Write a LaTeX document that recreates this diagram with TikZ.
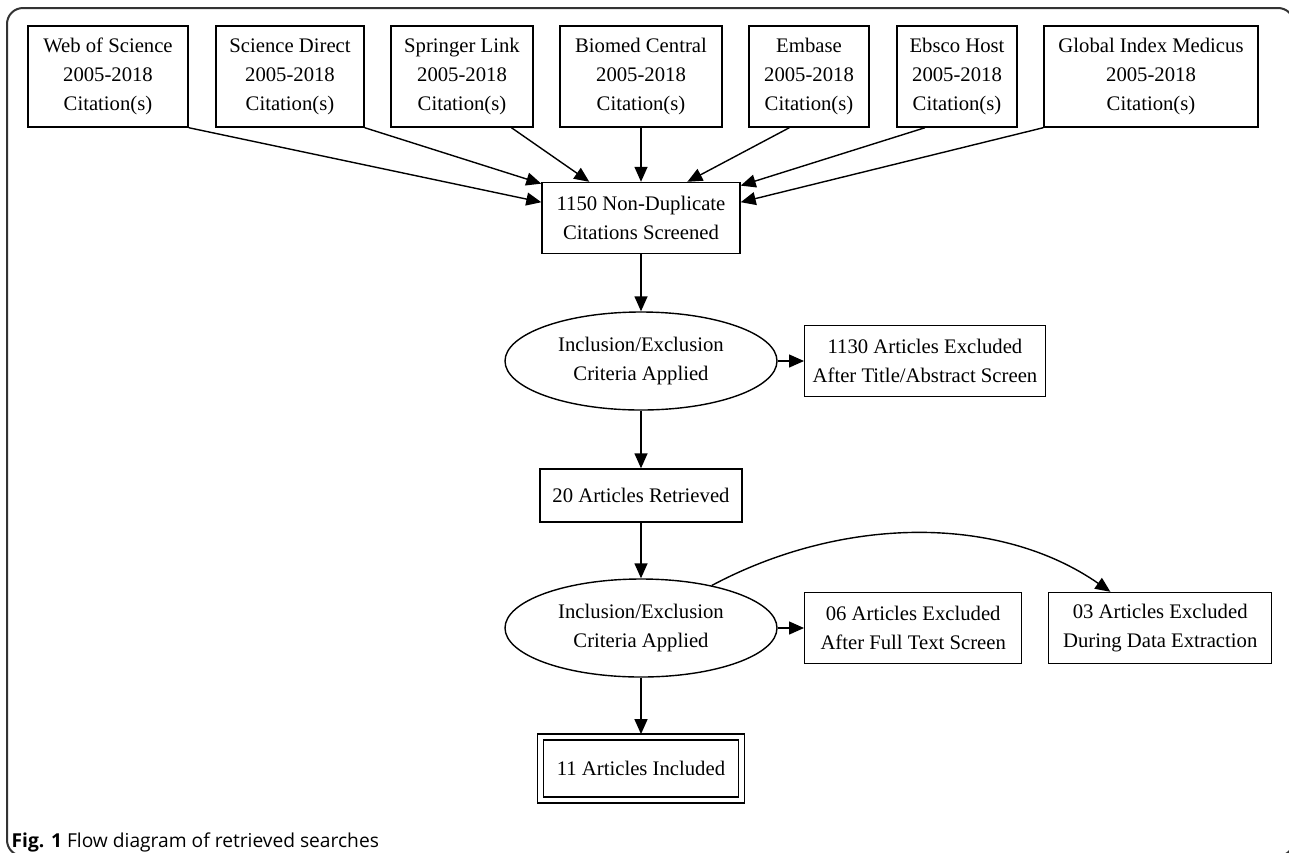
\documentclass[tikz,border=0pt]{standalone}
\usepackage{fontspec}
\setmainfont{Liberation Serif}
\newfontfamily\capfont{Open Sans}
\usetikzlibrary{positioning}
\usetikzlibrary{shapes.geometric}
\usetikzlibrary{arrows.meta}

\tikzset{
  src/.style={draw, align=center, minimum height=50.5pt, inner xsep=4pt},
  stagebox/.style={draw, align=center, minimum height=35.5pt, inner xsep=4pt},
  crit/.style={draw, ellipse, align=center, minimum width=136pt, minimum height=49pt, inner sep=0pt},
}

\begin{document}
\begin{tikzpicture}[x=0.5pt, y=-0.5pt, line width=0.7pt,
  >={Triangle[length=7.5pt,width=6.5pt]},
  every node/.style={font=\fontsize{10.35}{14.5}\selectfont}]
\useasboundingbox (0,0) rectangle (1289,852);
\begin{scope}
\clip (0,0) rectangle (1289,852);
\draw[line width=1pt, black!80, rounded corners=8pt] (7,8) rectangle (1294,856);
\end{scope}
% databases
\foreach \nm/\xx/\bw/\txt in {wos/108/80/Web of Science, sd/290/74/Science Direct, sl/462/71/Springer Link, bmc/641/81/Biomed Central, emb/809/60/Embase, ebs/957/60/Ebsco Host, gim/1151/107/Global Index Medicus} {
\node[src, minimum width=\bw pt] (\nm) at (\xx,76.5) {\txt\\2005-2018\\Citation(s)};
}
\node[stagebox, minimum width=99pt] (scr) at (641,218) {1150 Non-Duplicate\\Citations Screened};
\node[crit] (ell1) at (641,361) {Inclusion/Exclusion\\Criteria Applied};
\node[stagebox, anchor=west] (ex1) at (804,361) {1130 Articles Excluded\\After Title/Abstract Screen};
\node[draw, minimum width=101pt, minimum height=26.5pt] (ret) at (641,495.5) {20 Articles Retrieved};
\node[crit] (ell2) at (641,628) {Inclusion/Exclusion\\Criteria Applied};
\node[stagebox, minimum width=108.5pt, anchor=west] (ex2) at (804,628) {06 Articles Excluded\\After Full Text Screen};
\node[stagebox, minimum width=111.5pt, anchor=west] (ex3) at (1048,628) {03 Articles Excluded\\During Data Extraction};
\node[draw, double, double distance=2.2pt, outer sep=1.45pt, minimum width=100.5pt, minimum height=31.5pt] (inc) at (641,768.5) {11 Articles Included};
% edges
\foreach \a/\b in {wos.south east/scr.171, sd.south east/scr.161, sl.-46/scr.145, bmc/scr, emb.-111/scr.38, ebs.-122/scr.18, gim.south west/scr.9} {
\draw[->] (\a) -- (\b);
}
\draw[->] (scr) -- (ell1);
\draw[->] (ell1) -- (ex1);
\draw[->] (ell1) -- (ret);
\draw[->] (ret) -- (ell2);
\draw[->] (ell2) -- (ex2);
\draw[->] (ell2) -- (inc);
\draw[->] (ell2.31) .. controls (844,515) and (1000,515) .. (ex3.144);
\node[anchor=base west, font=\capfont\fontsize{9.6}{11}\selectfont, inner sep=0pt] (cap) at (11,847) {\textbf{Fig. 1} Flow diagram of retrieved searches};
\end{tikzpicture}
\end{document}
